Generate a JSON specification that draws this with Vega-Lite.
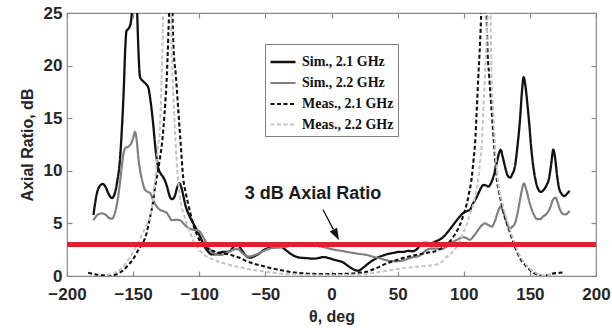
{
  "$schema": "https://vega.github.io/schema/vega-lite/v6.json",
  "width": 529,
  "height": 263,
  "autosize": {"type": "none"},
  "padding": {"left": 67, "top": 13, "right": 16, "bottom": 56},
  "background": "white",
  "config": {
    "view": {"stroke": "#8a8a8a", "strokeWidth": 1.2},
    "font": "Liberation Sans",
    "axis": {
      "grid": false,
      "domain": false,
      "tickColor": "#8a8a8a",
      "tickSize": -5,
      "tickWidth": 1.2,
      "labelFlush": false,
      "labelOverlap": false,
      "labelFont": "Liberation Sans",
      "labelFontWeight": "bold",
      "labelFontSize": 17,
      "labelColor": "#262626",
      "titleFont": "Liberation Sans",
      "titleFontWeight": "bold",
      "titleFontSize": 16,
      "titleColor": "#262626"
    }
  },
  "data": {"values": [
    {"series":"Sim., 2.1 GHz","theta":-180,"ar":5.8},{"series":"Sim., 2.1 GHz","theta":-177.5,"ar":7.8},{"series":"Sim., 2.1 GHz","theta":-175,"ar":8.6},{"series":"Sim., 2.1 GHz","theta":-173,"ar":8.75},{"series":"Sim., 2.1 GHz","theta":-171,"ar":8.5},{"series":"Sim., 2.1 GHz","theta":-168.5,"ar":7.8},{"series":"Sim., 2.1 GHz","theta":-166,"ar":7.4},{"series":"Sim., 2.1 GHz","theta":-164,"ar":7.8},{"series":"Sim., 2.1 GHz","theta":-162,"ar":9.0},{"series":"Sim., 2.1 GHz","theta":-160,"ar":11},{"series":"Sim., 2.1 GHz","theta":-158.5,"ar":14},{"series":"Sim., 2.1 GHz","theta":-157,"ar":18},{"series":"Sim., 2.1 GHz","theta":-156,"ar":21.5},{"series":"Sim., 2.1 GHz","theta":-155,"ar":23.3},{"series":"Sim., 2.1 GHz","theta":-153,"ar":23.6},{"series":"Sim., 2.1 GHz","theta":-151.5,"ar":24.3},{"series":"Sim., 2.1 GHz","theta":-150,"ar":27},{"series":"Sim., 2.1 GHz","theta":-148.5,"ar":30},{"series":"Sim., 2.1 GHz","theta":-147.2,"ar":26},{"series":"Sim., 2.1 GHz","theta":-146,"ar":21.5},{"series":"Sim., 2.1 GHz","theta":-144.8,"ar":18.9},{"series":"Sim., 2.1 GHz","theta":-142.3,"ar":18.5},{"series":"Sim., 2.1 GHz","theta":-140,"ar":18.2},{"series":"Sim., 2.1 GHz","theta":-138.5,"ar":17.9},{"series":"Sim., 2.1 GHz","theta":-137,"ar":16.8},{"series":"Sim., 2.1 GHz","theta":-136,"ar":15.8},{"series":"Sim., 2.1 GHz","theta":-134.5,"ar":14},{"series":"Sim., 2.1 GHz","theta":-133.5,"ar":12.6},{"series":"Sim., 2.1 GHz","theta":-132.2,"ar":11.2},{"series":"Sim., 2.1 GHz","theta":-131,"ar":10.3},{"series":"Sim., 2.1 GHz","theta":-129,"ar":9.7},{"series":"Sim., 2.1 GHz","theta":-127.2,"ar":9.4},{"series":"Sim., 2.1 GHz","theta":-124.6,"ar":8.6},{"series":"Sim., 2.1 GHz","theta":-122.1,"ar":7.5},{"series":"Sim., 2.1 GHz","theta":-120.5,"ar":7.3},{"series":"Sim., 2.1 GHz","theta":-118.5,"ar":7.6},{"series":"Sim., 2.1 GHz","theta":-116.5,"ar":8.5},{"series":"Sim., 2.1 GHz","theta":-115,"ar":8.8},{"series":"Sim., 2.1 GHz","theta":-113.5,"ar":8.4},{"series":"Sim., 2.1 GHz","theta":-112,"ar":7.6},{"series":"Sim., 2.1 GHz","theta":-110.8,"ar":6.9},{"series":"Sim., 2.1 GHz","theta":-107,"ar":5.6},{"series":"Sim., 2.1 GHz","theta":-104.5,"ar":5.0},{"series":"Sim., 2.1 GHz","theta":-101.9,"ar":4.4},{"series":"Sim., 2.1 GHz","theta":-98.1,"ar":3.4},{"series":"Sim., 2.1 GHz","theta":-95.5,"ar":2.7},{"series":"Sim., 2.1 GHz","theta":-93.2,"ar":2.3},{"series":"Sim., 2.1 GHz","theta":-90.5,"ar":2.05},{"series":"Sim., 2.1 GHz","theta":-88,"ar":2.05},{"series":"Sim., 2.1 GHz","theta":-85,"ar":2.2},{"series":"Sim., 2.1 GHz","theta":-82,"ar":2.3},{"series":"Sim., 2.1 GHz","theta":-79,"ar":2.3},{"series":"Sim., 2.1 GHz","theta":-76.5,"ar":2.4},{"series":"Sim., 2.1 GHz","theta":-74,"ar":2.8},{"series":"Sim., 2.1 GHz","theta":-72,"ar":3.05},{"series":"Sim., 2.1 GHz","theta":-70,"ar":2.85},{"series":"Sim., 2.1 GHz","theta":-67,"ar":2.3},{"series":"Sim., 2.1 GHz","theta":-64,"ar":1.85},{"series":"Sim., 2.1 GHz","theta":-61.5,"ar":1.75},{"series":"Sim., 2.1 GHz","theta":-58,"ar":1.9},{"series":"Sim., 2.1 GHz","theta":-55,"ar":2.1},{"series":"Sim., 2.1 GHz","theta":-52,"ar":2.4},{"series":"Sim., 2.1 GHz","theta":-49,"ar":2.6},{"series":"Sim., 2.1 GHz","theta":-45,"ar":2.7},{"series":"Sim., 2.1 GHz","theta":-41,"ar":2.75},{"series":"Sim., 2.1 GHz","theta":-38,"ar":2.75},{"series":"Sim., 2.1 GHz","theta":-35,"ar":2.5},{"series":"Sim., 2.1 GHz","theta":-31.4,"ar":2.15},{"series":"Sim., 2.1 GHz","theta":-28,"ar":1.9},{"series":"Sim., 2.1 GHz","theta":-24,"ar":1.75},{"series":"Sim., 2.1 GHz","theta":-19,"ar":1.7},{"series":"Sim., 2.1 GHz","theta":-14,"ar":1.65},{"series":"Sim., 2.1 GHz","theta":-10,"ar":1.7},{"series":"Sim., 2.1 GHz","theta":-6,"ar":1.8},{"series":"Sim., 2.1 GHz","theta":-2,"ar":1.7},{"series":"Sim., 2.1 GHz","theta":2,"ar":1.55},{"series":"Sim., 2.1 GHz","theta":5,"ar":1.45},{"series":"Sim., 2.1 GHz","theta":8,"ar":1.35},{"series":"Sim., 2.1 GHz","theta":11.5,"ar":1.05},{"series":"Sim., 2.1 GHz","theta":15,"ar":0.75},{"series":"Sim., 2.1 GHz","theta":18,"ar":0.55},{"series":"Sim., 2.1 GHz","theta":20.5,"ar":0.5},{"series":"Sim., 2.1 GHz","theta":23,"ar":0.7},{"series":"Sim., 2.1 GHz","theta":26,"ar":1.0},{"series":"Sim., 2.1 GHz","theta":29,"ar":1.3},{"series":"Sim., 2.1 GHz","theta":32,"ar":1.55},{"series":"Sim., 2.1 GHz","theta":35,"ar":1.75},{"series":"Sim., 2.1 GHz","theta":39,"ar":1.95},{"series":"Sim., 2.1 GHz","theta":43,"ar":2.1},{"series":"Sim., 2.1 GHz","theta":47,"ar":2.2},{"series":"Sim., 2.1 GHz","theta":51,"ar":2.3},{"series":"Sim., 2.1 GHz","theta":55,"ar":2.3},{"series":"Sim., 2.1 GHz","theta":58,"ar":2.4},{"series":"Sim., 2.1 GHz","theta":61,"ar":2.35},{"series":"Sim., 2.1 GHz","theta":64,"ar":2.5},{"series":"Sim., 2.1 GHz","theta":67,"ar":2.9},{"series":"Sim., 2.1 GHz","theta":69.5,"ar":3.15},{"series":"Sim., 2.1 GHz","theta":72,"ar":3.15},{"series":"Sim., 2.1 GHz","theta":74.5,"ar":3.1},{"series":"Sim., 2.1 GHz","theta":79,"ar":3.3},{"series":"Sim., 2.1 GHz","theta":84.5,"ar":3.7},{"series":"Sim., 2.1 GHz","theta":88,"ar":4.2},{"series":"Sim., 2.1 GHz","theta":92,"ar":4.85},{"series":"Sim., 2.1 GHz","theta":96,"ar":5.5},{"series":"Sim., 2.1 GHz","theta":99.7,"ar":6.0},{"series":"Sim., 2.1 GHz","theta":102,"ar":6.15},{"series":"Sim., 2.1 GHz","theta":104.7,"ar":6.3},{"series":"Sim., 2.1 GHz","theta":107,"ar":6.9},{"series":"Sim., 2.1 GHz","theta":109.8,"ar":7.5},{"series":"Sim., 2.1 GHz","theta":112,"ar":8.1},{"series":"Sim., 2.1 GHz","theta":114.8,"ar":8.65},{"series":"Sim., 2.1 GHz","theta":117,"ar":8.6},{"series":"Sim., 2.1 GHz","theta":118.6,"ar":8.5},{"series":"Sim., 2.1 GHz","theta":120.5,"ar":8.8},{"series":"Sim., 2.1 GHz","theta":122.3,"ar":9.4},{"series":"Sim., 2.1 GHz","theta":124.5,"ar":10.5},{"series":"Sim., 2.1 GHz","theta":126.5,"ar":11.6},{"series":"Sim., 2.1 GHz","theta":127.9,"ar":12.0},{"series":"Sim., 2.1 GHz","theta":129.5,"ar":11.3},{"series":"Sim., 2.1 GHz","theta":131.2,"ar":10.4},{"series":"Sim., 2.1 GHz","theta":133,"ar":9.6},{"series":"Sim., 2.1 GHz","theta":135,"ar":9.35},{"series":"Sim., 2.1 GHz","theta":136.8,"ar":9.7},{"series":"Sim., 2.1 GHz","theta":138.7,"ar":10.4},{"series":"Sim., 2.1 GHz","theta":140.5,"ar":12.2},{"series":"Sim., 2.1 GHz","theta":142.5,"ar":14.8},{"series":"Sim., 2.1 GHz","theta":144,"ar":17.5},{"series":"Sim., 2.1 GHz","theta":145.3,"ar":18.9},{"series":"Sim., 2.1 GHz","theta":146.5,"ar":18.2},{"series":"Sim., 2.1 GHz","theta":148,"ar":16.5},{"series":"Sim., 2.1 GHz","theta":149.5,"ar":14.5},{"series":"Sim., 2.1 GHz","theta":151,"ar":12.2},{"series":"Sim., 2.1 GHz","theta":152.5,"ar":10.5},{"series":"Sim., 2.1 GHz","theta":154.5,"ar":9.0},{"series":"Sim., 2.1 GHz","theta":156.5,"ar":8.2},{"series":"Sim., 2.1 GHz","theta":158.5,"ar":8.0},{"series":"Sim., 2.1 GHz","theta":160.5,"ar":8.2},{"series":"Sim., 2.1 GHz","theta":162.5,"ar":8.6},{"series":"Sim., 2.1 GHz","theta":164.5,"ar":9.3},{"series":"Sim., 2.1 GHz","theta":166,"ar":10.5},{"series":"Sim., 2.1 GHz","theta":167.7,"ar":12.0},{"series":"Sim., 2.1 GHz","theta":169,"ar":11.3},{"series":"Sim., 2.1 GHz","theta":170.5,"ar":9.6},{"series":"Sim., 2.1 GHz","theta":172,"ar":8.4},{"series":"Sim., 2.1 GHz","theta":174,"ar":7.8},{"series":"Sim., 2.1 GHz","theta":176,"ar":7.6},{"series":"Sim., 2.1 GHz","theta":178,"ar":7.8},{"series":"Sim., 2.1 GHz","theta":180,"ar":8.1},

    {"series":"Sim., 2.2 GHz","theta":-180,"ar":5.3},{"series":"Sim., 2.2 GHz","theta":-177,"ar":5.8},{"series":"Sim., 2.2 GHz","theta":-174,"ar":5.95},{"series":"Sim., 2.2 GHz","theta":-171,"ar":5.85},{"series":"Sim., 2.2 GHz","theta":-168,"ar":5.5},{"series":"Sim., 2.2 GHz","theta":-166,"ar":5.45},{"series":"Sim., 2.2 GHz","theta":-164,"ar":5.9},{"series":"Sim., 2.2 GHz","theta":-162,"ar":7.0},{"series":"Sim., 2.2 GHz","theta":-160,"ar":8.8},{"series":"Sim., 2.2 GHz","theta":-158.5,"ar":10.5},{"series":"Sim., 2.2 GHz","theta":-157,"ar":11.8},{"series":"Sim., 2.2 GHz","theta":-155.5,"ar":12.2},{"series":"Sim., 2.2 GHz","theta":-153.5,"ar":12.3},{"series":"Sim., 2.2 GHz","theta":-151.5,"ar":12.6},{"series":"Sim., 2.2 GHz","theta":-150,"ar":13.1},{"series":"Sim., 2.2 GHz","theta":-148.6,"ar":13.7},{"series":"Sim., 2.2 GHz","theta":-147.2,"ar":12.8},{"series":"Sim., 2.2 GHz","theta":-146,"ar":11.2},{"series":"Sim., 2.2 GHz","theta":-144.8,"ar":10.1},{"series":"Sim., 2.2 GHz","theta":-143,"ar":9.0},{"series":"Sim., 2.2 GHz","theta":-141,"ar":8.2},{"series":"Sim., 2.2 GHz","theta":-139,"ar":8.0},{"series":"Sim., 2.2 GHz","theta":-137.2,"ar":7.9},{"series":"Sim., 2.2 GHz","theta":-135.5,"ar":7.4},{"series":"Sim., 2.2 GHz","theta":-133.5,"ar":6.9},{"series":"Sim., 2.2 GHz","theta":-131.5,"ar":6.5},{"series":"Sim., 2.2 GHz","theta":-129.7,"ar":6.3},{"series":"Sim., 2.2 GHz","theta":-127,"ar":6.15},{"series":"Sim., 2.2 GHz","theta":-124.6,"ar":6.0},{"series":"Sim., 2.2 GHz","theta":-122.5,"ar":5.6},{"series":"Sim., 2.2 GHz","theta":-120.8,"ar":5.3},{"series":"Sim., 2.2 GHz","theta":-117.5,"ar":5.35},{"series":"Sim., 2.2 GHz","theta":-114.6,"ar":5.3},{"series":"Sim., 2.2 GHz","theta":-112,"ar":5.0},{"series":"Sim., 2.2 GHz","theta":-109.5,"ar":4.7},{"series":"Sim., 2.2 GHz","theta":-107,"ar":4.5},{"series":"Sim., 2.2 GHz","theta":-104.5,"ar":4.4},{"series":"Sim., 2.2 GHz","theta":-102,"ar":4.35},{"series":"Sim., 2.2 GHz","theta":-99.4,"ar":4.2},{"series":"Sim., 2.2 GHz","theta":-97.5,"ar":3.8},{"series":"Sim., 2.2 GHz","theta":-95.7,"ar":3.4},{"series":"Sim., 2.2 GHz","theta":-93.8,"ar":2.9},{"series":"Sim., 2.2 GHz","theta":-91.9,"ar":2.5},{"series":"Sim., 2.2 GHz","theta":-89.5,"ar":2.2},{"series":"Sim., 2.2 GHz","theta":-87,"ar":2.05},{"series":"Sim., 2.2 GHz","theta":-84,"ar":2.0},{"series":"Sim., 2.2 GHz","theta":-80,"ar":2.15},{"series":"Sim., 2.2 GHz","theta":-76.5,"ar":2.35},{"series":"Sim., 2.2 GHz","theta":-73,"ar":2.55},{"series":"Sim., 2.2 GHz","theta":-70.5,"ar":2.55},{"series":"Sim., 2.2 GHz","theta":-68,"ar":2.25},{"series":"Sim., 2.2 GHz","theta":-65,"ar":1.95},{"series":"Sim., 2.2 GHz","theta":-62,"ar":1.85},{"series":"Sim., 2.2 GHz","theta":-59,"ar":1.95},{"series":"Sim., 2.2 GHz","theta":-55,"ar":2.15},{"series":"Sim., 2.2 GHz","theta":-51,"ar":2.4},{"series":"Sim., 2.2 GHz","theta":-47,"ar":2.6},{"series":"Sim., 2.2 GHz","theta":-42,"ar":2.7},{"series":"Sim., 2.2 GHz","theta":-37,"ar":2.75},{"series":"Sim., 2.2 GHz","theta":-32,"ar":2.85},{"series":"Sim., 2.2 GHz","theta":-28,"ar":3.05},{"series":"Sim., 2.2 GHz","theta":-24,"ar":3.15},{"series":"Sim., 2.2 GHz","theta":-20,"ar":3.05},{"series":"Sim., 2.2 GHz","theta":-14,"ar":2.95},{"series":"Sim., 2.2 GHz","theta":-8,"ar":2.8},{"series":"Sim., 2.2 GHz","theta":-3,"ar":2.65},{"series":"Sim., 2.2 GHz","theta":2,"ar":2.5},{"series":"Sim., 2.2 GHz","theta":7,"ar":2.4},{"series":"Sim., 2.2 GHz","theta":11.5,"ar":2.3},{"series":"Sim., 2.2 GHz","theta":16,"ar":2.2},{"series":"Sim., 2.2 GHz","theta":21,"ar":2.1},{"series":"Sim., 2.2 GHz","theta":26.6,"ar":2.0},{"series":"Sim., 2.2 GHz","theta":31,"ar":1.85},{"series":"Sim., 2.2 GHz","theta":36,"ar":1.7},{"series":"Sim., 2.2 GHz","theta":41.7,"ar":1.5},{"series":"Sim., 2.2 GHz","theta":45,"ar":1.42},{"series":"Sim., 2.2 GHz","theta":49.3,"ar":1.4},{"series":"Sim., 2.2 GHz","theta":53,"ar":1.45},{"series":"Sim., 2.2 GHz","theta":57,"ar":1.6},{"series":"Sim., 2.2 GHz","theta":61.9,"ar":1.8},{"series":"Sim., 2.2 GHz","theta":65,"ar":1.85},{"series":"Sim., 2.2 GHz","theta":68,"ar":2.05},{"series":"Sim., 2.2 GHz","theta":71,"ar":2.4},{"series":"Sim., 2.2 GHz","theta":75,"ar":2.6},{"series":"Sim., 2.2 GHz","theta":79,"ar":2.6},{"series":"Sim., 2.2 GHz","theta":83,"ar":2.55},{"series":"Sim., 2.2 GHz","theta":86.5,"ar":2.75},{"series":"Sim., 2.2 GHz","theta":89.6,"ar":3.1},{"series":"Sim., 2.2 GHz","theta":93,"ar":3.3},{"series":"Sim., 2.2 GHz","theta":96.5,"ar":3.55},{"series":"Sim., 2.2 GHz","theta":99.7,"ar":3.7},{"series":"Sim., 2.2 GHz","theta":102,"ar":3.6},{"series":"Sim., 2.2 GHz","theta":104.7,"ar":3.45},{"series":"Sim., 2.2 GHz","theta":107.5,"ar":3.8},{"series":"Sim., 2.2 GHz","theta":111,"ar":4.4},{"series":"Sim., 2.2 GHz","theta":113.5,"ar":4.8},{"series":"Sim., 2.2 GHz","theta":116,"ar":5.0},{"series":"Sim., 2.2 GHz","theta":118.5,"ar":4.85},{"series":"Sim., 2.2 GHz","theta":121.1,"ar":4.7},{"series":"Sim., 2.2 GHz","theta":123.5,"ar":5.2},{"series":"Sim., 2.2 GHz","theta":125.8,"ar":6.1},{"series":"Sim., 2.2 GHz","theta":127.9,"ar":6.6},{"series":"Sim., 2.2 GHz","theta":129.5,"ar":6.2},{"series":"Sim., 2.2 GHz","theta":131.2,"ar":5.6},{"series":"Sim., 2.2 GHz","theta":133,"ar":4.9},{"series":"Sim., 2.2 GHz","theta":135,"ar":4.5},{"series":"Sim., 2.2 GHz","theta":136.8,"ar":4.7},{"series":"Sim., 2.2 GHz","theta":138.7,"ar":5.0},{"series":"Sim., 2.2 GHz","theta":140.7,"ar":6.0},{"series":"Sim., 2.2 GHz","theta":142.5,"ar":7.2},{"series":"Sim., 2.2 GHz","theta":144,"ar":8.2},{"series":"Sim., 2.2 GHz","theta":145.6,"ar":8.8},{"series":"Sim., 2.2 GHz","theta":147.3,"ar":8.2},{"series":"Sim., 2.2 GHz","theta":149.5,"ar":7.1},{"series":"Sim., 2.2 GHz","theta":151.5,"ar":6.3},{"series":"Sim., 2.2 GHz","theta":153.5,"ar":5.7},{"series":"Sim., 2.2 GHz","theta":155.5,"ar":5.4},{"series":"Sim., 2.2 GHz","theta":157.5,"ar":5.4},{"series":"Sim., 2.2 GHz","theta":160,"ar":5.65},{"series":"Sim., 2.2 GHz","theta":162.5,"ar":5.9},{"series":"Sim., 2.2 GHz","theta":165,"ar":6.4},{"series":"Sim., 2.2 GHz","theta":167.7,"ar":7.3},{"series":"Sim., 2.2 GHz","theta":169.5,"ar":7.45},{"series":"Sim., 2.2 GHz","theta":171,"ar":7.0},{"series":"Sim., 2.2 GHz","theta":172.5,"ar":6.4},{"series":"Sim., 2.2 GHz","theta":174.5,"ar":5.95},{"series":"Sim., 2.2 GHz","theta":177,"ar":5.85},{"series":"Sim., 2.2 GHz","theta":180,"ar":6.2},

    {"series":"Meas., 2.1 GHz","theta":-184,"ar":0.3},{"series":"Meas., 2.1 GHz","theta":-178,"ar":0.15},{"series":"Meas., 2.1 GHz","theta":-172,"ar":0.05},{"series":"Meas., 2.1 GHz","theta":-167,"ar":0.0},{"series":"Meas., 2.1 GHz","theta":-162,"ar":0.2},{"series":"Meas., 2.1 GHz","theta":-158,"ar":0.5},{"series":"Meas., 2.1 GHz","theta":-154,"ar":1.0},{"series":"Meas., 2.1 GHz","theta":-150,"ar":1.6},{"series":"Meas., 2.1 GHz","theta":-146,"ar":2.5},{"series":"Meas., 2.1 GHz","theta":-142.3,"ar":3.2},{"series":"Meas., 2.1 GHz","theta":-140,"ar":4.0},{"series":"Meas., 2.1 GHz","theta":-137.2,"ar":5.6},{"series":"Meas., 2.1 GHz","theta":-135,"ar":7.0},{"series":"Meas., 2.1 GHz","theta":-133.5,"ar":8.4},{"series":"Meas., 2.1 GHz","theta":-131.5,"ar":9.8},{"series":"Meas., 2.1 GHz","theta":-129.7,"ar":11.2},{"series":"Meas., 2.1 GHz","theta":-128,"ar":12.8},{"series":"Meas., 2.1 GHz","theta":-127,"ar":14.2},{"series":"Meas., 2.1 GHz","theta":-125.5,"ar":16.8},{"series":"Meas., 2.1 GHz","theta":-124.5,"ar":19},{"series":"Meas., 2.1 GHz","theta":-123.5,"ar":22.5},{"series":"Meas., 2.1 GHz","theta":-122.5,"ar":27},{"series":"Meas., 2.1 GHz","theta":-121.4,"ar":40},{"series":"Meas., 2.1 GHz","theta":-120.3,"ar":25.5},{"series":"Meas., 2.1 GHz","theta":-119.6,"ar":22.1},{"series":"Meas., 2.1 GHz","theta":-117.6,"ar":18.9},{"series":"Meas., 2.1 GHz","theta":-115.8,"ar":15.7},{"series":"Meas., 2.1 GHz","theta":-114,"ar":12.5},{"series":"Meas., 2.1 GHz","theta":-112.1,"ar":9.3},{"series":"Meas., 2.1 GHz","theta":-110.2,"ar":7.9},{"series":"Meas., 2.1 GHz","theta":-108.3,"ar":6.8},{"series":"Meas., 2.1 GHz","theta":-106.4,"ar":5.8},{"series":"Meas., 2.1 GHz","theta":-104.5,"ar":4.9},{"series":"Meas., 2.1 GHz","theta":-102,"ar":4.0},{"series":"Meas., 2.1 GHz","theta":-99.4,"ar":3.3},{"series":"Meas., 2.1 GHz","theta":-95,"ar":2.7},{"series":"Meas., 2.1 GHz","theta":-90,"ar":2.4},{"series":"Meas., 2.1 GHz","theta":-85,"ar":2.2},{"series":"Meas., 2.1 GHz","theta":-80,"ar":2.1},{"series":"Meas., 2.1 GHz","theta":-76,"ar":2.0},{"series":"Meas., 2.1 GHz","theta":-70,"ar":1.75},{"series":"Meas., 2.1 GHz","theta":-64,"ar":1.4},{"series":"Meas., 2.1 GHz","theta":-58,"ar":1.15},{"series":"Meas., 2.1 GHz","theta":-52,"ar":0.95},{"series":"Meas., 2.1 GHz","theta":-46,"ar":0.75},{"series":"Meas., 2.1 GHz","theta":-39,"ar":0.57},{"series":"Meas., 2.1 GHz","theta":-32,"ar":0.4},{"series":"Meas., 2.1 GHz","theta":-25,"ar":0.3},{"series":"Meas., 2.1 GHz","theta":-14,"ar":0.2},{"series":"Meas., 2.1 GHz","theta":0,"ar":0.18},{"series":"Meas., 2.1 GHz","theta":11,"ar":0.2},{"series":"Meas., 2.1 GHz","theta":19,"ar":0.28},{"series":"Meas., 2.1 GHz","theta":26.6,"ar":0.4},{"series":"Meas., 2.1 GHz","theta":34,"ar":0.75},{"series":"Meas., 2.1 GHz","theta":41.7,"ar":1.2},{"series":"Meas., 2.1 GHz","theta":49,"ar":1.5},{"series":"Meas., 2.1 GHz","theta":56.8,"ar":1.8},{"series":"Meas., 2.1 GHz","theta":64,"ar":2.0},{"series":"Meas., 2.1 GHz","theta":72,"ar":2.2},{"series":"Meas., 2.1 GHz","theta":79.5,"ar":2.4},{"series":"Meas., 2.1 GHz","theta":85,"ar":2.8},{"series":"Meas., 2.1 GHz","theta":89.6,"ar":3.3},{"series":"Meas., 2.1 GHz","theta":93.5,"ar":4.0},{"series":"Meas., 2.1 GHz","theta":97.2,"ar":4.9},{"series":"Meas., 2.1 GHz","theta":100,"ar":5.9},{"series":"Meas., 2.1 GHz","theta":102.2,"ar":6.8},{"series":"Meas., 2.1 GHz","theta":104.2,"ar":8.0},{"series":"Meas., 2.1 GHz","theta":106,"ar":9.3},{"series":"Meas., 2.1 GHz","theta":107.3,"ar":10.9},{"series":"Meas., 2.1 GHz","theta":108.5,"ar":12.5},{"series":"Meas., 2.1 GHz","theta":109.8,"ar":15.7},{"series":"Meas., 2.1 GHz","theta":111,"ar":18.9},{"series":"Meas., 2.1 GHz","theta":112.3,"ar":22.1},{"series":"Meas., 2.1 GHz","theta":113.3,"ar":25.5},{"series":"Meas., 2.1 GHz","theta":115.3,"ar":40},{"series":"Meas., 2.1 GHz","theta":117.2,"ar":25.5},{"series":"Meas., 2.1 GHz","theta":117.8,"ar":22.1},{"series":"Meas., 2.1 GHz","theta":119.3,"ar":18.9},{"series":"Meas., 2.1 GHz","theta":121.1,"ar":15.7},{"series":"Meas., 2.1 GHz","theta":122.9,"ar":12.5},{"series":"Meas., 2.1 GHz","theta":124.9,"ar":9.3},{"series":"Meas., 2.1 GHz","theta":126.8,"ar":7.9},{"series":"Meas., 2.1 GHz","theta":128.7,"ar":6.8},{"series":"Meas., 2.1 GHz","theta":131,"ar":5.6},{"series":"Meas., 2.1 GHz","theta":133.7,"ar":4.6},{"series":"Meas., 2.1 GHz","theta":137.5,"ar":3.2},{"series":"Meas., 2.1 GHz","theta":140,"ar":2.4},{"series":"Meas., 2.1 GHz","theta":143,"ar":1.6},{"series":"Meas., 2.1 GHz","theta":146,"ar":1.1},{"series":"Meas., 2.1 GHz","theta":149,"ar":0.7},{"series":"Meas., 2.1 GHz","theta":152,"ar":0.35},{"series":"Meas., 2.1 GHz","theta":156,"ar":0.12},{"series":"Meas., 2.1 GHz","theta":160,"ar":0.02},{"series":"Meas., 2.1 GHz","theta":164,"ar":0.1},{"series":"Meas., 2.1 GHz","theta":168,"ar":0.25},{"series":"Meas., 2.1 GHz","theta":172,"ar":0.3},{"series":"Meas., 2.1 GHz","theta":176,"ar":0.4},

    {"series":"Meas., 2.2 GHz","theta":-170,"ar":0.1},{"series":"Meas., 2.2 GHz","theta":-164,"ar":0.3},{"series":"Meas., 2.2 GHz","theta":-159,"ar":0.7},{"series":"Meas., 2.2 GHz","theta":-155,"ar":1.3},{"series":"Meas., 2.2 GHz","theta":-151,"ar":2.1},{"series":"Meas., 2.2 GHz","theta":-147,"ar":3.0},{"series":"Meas., 2.2 GHz","theta":-143,"ar":4.0},{"series":"Meas., 2.2 GHz","theta":-140,"ar":4.8},{"series":"Meas., 2.2 GHz","theta":-137.2,"ar":5.6},{"series":"Meas., 2.2 GHz","theta":-135.8,"ar":6.5},{"series":"Meas., 2.2 GHz","theta":-134.7,"ar":7.5},{"series":"Meas., 2.2 GHz","theta":-133.6,"ar":8.8},{"series":"Meas., 2.2 GHz","theta":-132.7,"ar":10.1},{"series":"Meas., 2.2 GHz","theta":-131.2,"ar":12.2},{"series":"Meas., 2.2 GHz","theta":-129.7,"ar":14.2},{"series":"Meas., 2.2 GHz","theta":-129,"ar":16.5},{"series":"Meas., 2.2 GHz","theta":-128.4,"ar":18.9},{"series":"Meas., 2.2 GHz","theta":-127.8,"ar":22},{"series":"Meas., 2.2 GHz","theta":-127.2,"ar":25.5},{"series":"Meas., 2.2 GHz","theta":-124.5,"ar":45},{"series":"Meas., 2.2 GHz","theta":-121.5,"ar":25.5},{"series":"Meas., 2.2 GHz","theta":-120.5,"ar":20},{"series":"Meas., 2.2 GHz","theta":-119.1,"ar":15.7},{"series":"Meas., 2.2 GHz","theta":-117.1,"ar":11},{"series":"Meas., 2.2 GHz","theta":-114.6,"ar":7.5},{"series":"Meas., 2.2 GHz","theta":-112,"ar":6.0},{"series":"Meas., 2.2 GHz","theta":-109.5,"ar":5.0},{"series":"Meas., 2.2 GHz","theta":-107,"ar":4.1},{"series":"Meas., 2.2 GHz","theta":-104.5,"ar":3.3},{"series":"Meas., 2.2 GHz","theta":-102,"ar":2.8},{"series":"Meas., 2.2 GHz","theta":-99.4,"ar":2.4},{"series":"Meas., 2.2 GHz","theta":-95,"ar":1.9},{"series":"Meas., 2.2 GHz","theta":-90,"ar":1.6},{"series":"Meas., 2.2 GHz","theta":-85,"ar":1.35},{"series":"Meas., 2.2 GHz","theta":-80,"ar":1.15},{"series":"Meas., 2.2 GHz","theta":-74,"ar":0.95},{"series":"Meas., 2.2 GHz","theta":-68,"ar":0.8},{"series":"Meas., 2.2 GHz","theta":-60,"ar":0.6},{"series":"Meas., 2.2 GHz","theta":-52,"ar":0.45},{"series":"Meas., 2.2 GHz","theta":-44,"ar":0.3},{"series":"Meas., 2.2 GHz","theta":-35,"ar":0.2},{"series":"Meas., 2.2 GHz","theta":-25,"ar":0.12},{"series":"Meas., 2.2 GHz","theta":-12,"ar":0.08},{"series":"Meas., 2.2 GHz","theta":0,"ar":0.08},{"series":"Meas., 2.2 GHz","theta":12,"ar":0.1},{"series":"Meas., 2.2 GHz","theta":22,"ar":0.15},{"series":"Meas., 2.2 GHz","theta":32,"ar":0.3},{"series":"Meas., 2.2 GHz","theta":42,"ar":0.5},{"series":"Meas., 2.2 GHz","theta":52,"ar":0.7},{"series":"Meas., 2.2 GHz","theta":62,"ar":0.85},{"series":"Meas., 2.2 GHz","theta":70,"ar":0.95},{"series":"Meas., 2.2 GHz","theta":79.5,"ar":1.1},{"series":"Meas., 2.2 GHz","theta":84,"ar":1.4},{"series":"Meas., 2.2 GHz","theta":87.1,"ar":1.8},{"series":"Meas., 2.2 GHz","theta":91.5,"ar":2.3},{"series":"Meas., 2.2 GHz","theta":95.9,"ar":3.0},{"series":"Meas., 2.2 GHz","theta":99,"ar":3.9},{"series":"Meas., 2.2 GHz","theta":102.2,"ar":4.9},{"series":"Meas., 2.2 GHz","theta":105,"ar":6.0},{"series":"Meas., 2.2 GHz","theta":107.2,"ar":6.8},{"series":"Meas., 2.2 GHz","theta":109.2,"ar":8.0},{"series":"Meas., 2.2 GHz","theta":111,"ar":9.3},{"series":"Meas., 2.2 GHz","theta":112.5,"ar":11},{"series":"Meas., 2.2 GHz","theta":113.6,"ar":12.5},{"series":"Meas., 2.2 GHz","theta":114.8,"ar":15.7},{"series":"Meas., 2.2 GHz","theta":116,"ar":18.9},{"series":"Meas., 2.2 GHz","theta":117.5,"ar":23},{"series":"Meas., 2.2 GHz","theta":118.3,"ar":26},{"series":"Meas., 2.2 GHz","theta":119.4,"ar":40},{"series":"Meas., 2.2 GHz","theta":120.4,"ar":24},{"series":"Meas., 2.2 GHz","theta":121.1,"ar":18.9},{"series":"Meas., 2.2 GHz","theta":122.3,"ar":15.7},{"series":"Meas., 2.2 GHz","theta":123.6,"ar":12.5},{"series":"Meas., 2.2 GHz","theta":125.6,"ar":9.3},{"series":"Meas., 2.2 GHz","theta":128.7,"ar":7.2},{"series":"Meas., 2.2 GHz","theta":131.5,"ar":5.8},{"series":"Meas., 2.2 GHz","theta":134.5,"ar":4.6},{"series":"Meas., 2.2 GHz","theta":138,"ar":3.3},{"series":"Meas., 2.2 GHz","theta":141,"ar":2.3},{"series":"Meas., 2.2 GHz","theta":144,"ar":1.6},{"series":"Meas., 2.2 GHz","theta":147,"ar":1.1},{"series":"Meas., 2.2 GHz","theta":150,"ar":0.7},{"series":"Meas., 2.2 GHz","theta":154,"ar":0.35},{"series":"Meas., 2.2 GHz","theta":158,"ar":0.12},{"series":"Meas., 2.2 GHz","theta":162,"ar":0.05},{"series":"Meas., 2.2 GHz","theta":166,"ar":0.15}
  ]},
  "layer": [
    {
      "mark": {"type": "line", "interpolate": "monotone", "clip": true},
      "encoding": {
        "x": {"field": "theta", "type": "quantitative", "scale": {"domain": [-200, 200], "nice": false, "zero": false},
              "axis": {"values": [-200, -150, -100, -50, 0, 50, 100, 150, 200], "title": "θ, deg", "labelPadding": 15, "titlePadding": 6}},
        "y": {"field": "ar", "type": "quantitative", "scale": {"domain": [0, 25], "nice": false},
              "axis": {"values": [0, 5, 10, 15, 20, 25], "title": "Axial Ratio, dB", "labelPadding": 10, "titlePadding": 8}},
        "color": {"field": "series", "type": "nominal",
                  "scale": {"domain": ["Sim., 2.1 GHz", "Sim., 2.2 GHz", "Meas., 2.1 GHz", "Meas., 2.2 GHz"], "range": ["#111111", "#808080", "#111111", "#c4c4c4"]},
                  "legend": {"title": null, "orient": "none", "legendX": 198, "legendY": 31, "symbolType": "stroke", "symbolSize": 625, "symbolStrokeWidth": 2.5,
                             "labelFont": "Liberation Serif", "labelFontWeight": "bold", "labelFontSize": 14, "labelColor": "#111111", "labelOffset": 5,
                             "rowPadding": -8.5, "padding": 4, "strokeColor": "#808080", "fillColor": "white", "labelLimit": 200}},
        "strokeDash": {"field": "series", "type": "nominal",
                       "scale": {"domain": ["Sim., 2.1 GHz", "Sim., 2.2 GHz", "Meas., 2.1 GHz", "Meas., 2.2 GHz"], "range": [[1, 0], [1, 0], [4, 2.5], [4, 2.5]]},
                       "legend": {"title": null}},
        "strokeWidth": {"field": "series", "type": "nominal",
                        "scale": {"domain": ["Sim., 2.1 GHz", "Sim., 2.2 GHz", "Meas., 2.1 GHz", "Meas., 2.2 GHz"], "range": [2.3, 2, 3, 3]},
                        "legend": {"title": null}}
      }
    },
    {
      "mark": {"type": "point", "opacity": 0},
      "encoding": {
        "x": {"field": "theta", "type": "quantitative", "axis": {"orient": "top", "values": [-200, -150, -100, -50, 0, 50, 100, 150, 200], "labels": false, "title": null}},
        "y": {"field": "ar", "type": "quantitative", "axis": {"orient": "right", "values": [0, 5, 10, 15, 20, 25], "labels": false, "title": null}}
      }
    },
    {
      "data": {"values": [{"level": 3}]},
      "mark": {"type": "rule", "color": "#e0202a", "strokeWidth": 5},
      "encoding": {"y": {"field": "level", "type": "quantitative", "axis": null}}
    },
    {
      "data": {"values": [{"theta": -14, "ar": 7.8, "label": "3 dB Axial Ratio"}]},
      "mark": {"type": "text", "font": "Liberation Sans", "fontWeight": "bold", "fontSize": 18, "color": "#1a1a1a"},
      "encoding": {"x": {"field": "theta", "type": "quantitative", "axis": null}, "y": {"field": "ar", "type": "quantitative", "axis": null}, "text": {"field": "label"}}
    },
    {
      "data": {"values": [{"t1": -6.4, "a1": 6.3, "t2": 1.4, "a2": 4.43}]},
      "mark": {"type": "rule", "color": "#111111", "strokeWidth": 1.3},
      "encoding": {"x": {"field": "t1", "type": "quantitative", "axis": null}, "y": {"field": "a1", "type": "quantitative", "axis": null},
                   "x2": {"field": "t2"}, "y2": {"field": "a2"}}
    },
    {
      "data": {"values": [{"theta": 5.7, "ar": 3.4}]},
      "mark": {"type": "point", "shape": "M0,0L-0.35,-1L0.35,-1Z", "size": 576, "filled": true, "color": "#111111", "opacity": 1, "angle": 332},
      "encoding": {"x": {"field": "theta", "type": "quantitative", "axis": null}, "y": {"field": "ar", "type": "quantitative", "axis": null}}
    }
  ],
  "resolve": {"axis": {"x": "independent", "y": "independent"}}
}
